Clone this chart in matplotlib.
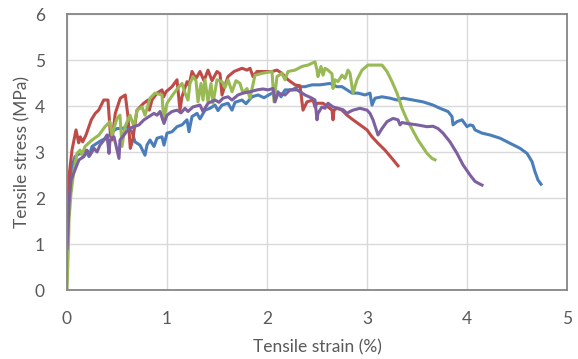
import matplotlib.pyplot as plt
import numpy as np

# (strain %, stress MPa)
blue_pts = [
    (0.0, 1.6), (0.01, 1.74), (0.02, 2.25), (0.05, 2.68), (0.08, 2.90), (0.13, 2.97),
    (0.18, 3.04), (0.22, 2.90), (0.25, 3.12), (0.30, 3.19), (0.35, 3.26), (0.40, 3.30),
    (0.45, 3.44), (0.50, 3.51), (0.55, 3.51), (0.60, 3.55), (0.65, 3.44), (0.68, 3.22),
    (0.73, 3.15), (0.78, 2.93), (0.80, 3.15), (0.83, 3.26), (0.87, 3.12), (0.90, 3.30),
    (0.95, 3.33), (0.97, 3.15), (1.00, 3.41), (1.05, 3.44), (1.10, 3.55), (1.15, 3.59),
    (1.20, 3.70), (1.22, 3.44), (1.25, 3.77), (1.30, 3.84), (1.33, 3.72), (1.38, 3.91),
    (1.43, 3.95), (1.48, 4.02), (1.51, 3.90), (1.55, 4.02), (1.61, 4.06), (1.65, 3.91),
    (1.68, 4.08), (1.75, 4.13), (1.79, 4.05), (1.85, 4.20), (1.91, 4.24), (1.97, 4.18),
    (2.05, 4.28), (2.11, 4.31), (2.14, 4.20), (2.18, 4.35), (2.25, 4.35), (2.31, 4.42),
    (2.38, 4.42), (2.45, 4.46), (2.53, 4.46), (2.63, 4.49), (2.70, 4.42), (2.75, 4.42),
    (2.80, 4.35), (2.85, 4.28), (2.91, 4.28), (2.98, 4.24), (3.03, 4.28), (3.05, 4.02),
    (3.08, 4.17), (3.15, 4.20), (3.23, 4.17), (3.30, 4.13), (3.36, 4.17), (3.46, 4.13),
    (3.56, 4.09), (3.66, 4.02), (3.73, 3.95), (3.81, 3.88), (3.85, 3.77), (3.86, 3.59),
    (3.90, 3.66), (3.95, 3.70), (4.00, 3.55), (4.03, 3.59), (4.06, 3.57), (4.08, 3.48),
    (4.15, 3.41), (4.23, 3.37), (4.33, 3.30), (4.43, 3.19), (4.53, 3.08), (4.60, 2.97),
    (4.65, 2.79), (4.68, 2.57), (4.71, 2.39), (4.74, 2.30),
]

red_pts = [
    (0.0, 1.8), (0.01, 1.96), (0.02, 2.46), (0.05, 3.04), (0.09, 3.48), (0.117, 3.20),
    (0.133, 3.33), (0.157, 3.22), (0.19, 3.37), (0.243, 3.70), (0.283, 3.84), (0.317, 3.91),
    (0.367, 4.13), (0.41, 4.13), (0.433, 3.41), (0.45, 3.26), (0.483, 3.84), (0.533, 4.17),
    (0.583, 4.24), (0.61, 3.77), (0.633, 3.08), (0.657, 3.26), (0.70, 3.91), (0.767, 4.06),
    (0.81, 4.13), (0.823, 3.91), (0.85, 4.13), (0.90, 4.28), (0.95, 4.35), (0.967, 4.20),
    (0.99, 4.31), (1.05, 4.42), (1.10, 4.57), (1.13, 3.91), (1.15, 4.20), (1.20, 4.53),
    (1.22, 4.45), (1.25, 4.75), (1.29, 4.60), (1.33, 4.75), (1.37, 4.55), (1.41, 4.78),
    (1.45, 4.55), (1.50, 4.75), (1.53, 4.70), (1.55, 4.24), (1.58, 4.45), (1.61, 4.64),
    (1.67, 4.75), (1.75, 4.82), (1.80, 4.78), (1.83, 4.82), (1.86, 4.64), (1.90, 4.75),
    (1.98, 4.75), (2.05, 4.75), (2.10, 4.78), (2.15, 4.71), (2.21, 4.57), (2.28, 4.46),
    (2.33, 4.44), (2.36, 3.91), (2.40, 4.09), (2.46, 4.13), (2.48, 3.98), (2.50, 4.06),
    (2.56, 4.06), (2.61, 3.98), (2.65, 3.91), (2.66, 3.70), (2.67, 3.91), (2.70, 3.95),
    (2.75, 3.91), (2.80, 3.80), (2.86, 3.70), (2.93, 3.59), (3.00, 3.48), (3.05, 3.33),
    (3.11, 3.19), (3.18, 3.04), (3.25, 2.86), (3.31, 2.70),
]

green_pts = [
    (0.0, 0.0), (0.017, 1.16), (0.02, 1.52), (0.04, 2.10), (0.07, 2.61), (0.10, 2.97),
    (0.13, 3.04), (0.15, 2.93), (0.18, 3.12), (0.25, 3.26), (0.32, 3.37), (0.38, 3.55),
    (0.43, 3.66), (0.45, 3.37), (0.50, 3.73), (0.53, 3.80), (0.55, 3.12), (0.58, 3.55),
    (0.63, 3.80), (0.67, 3.55), (0.70, 3.91), (0.75, 3.98), (0.78, 3.80), (0.83, 4.17),
    (0.88, 4.28), (0.95, 4.24), (0.967, 3.70), (1.00, 4.06), (1.07, 4.28), (1.12, 4.42),
    (1.15, 4.49), (1.18, 4.28), (1.21, 4.13), (1.23, 4.49), (1.26, 4.64), (1.29, 4.55),
    (1.31, 4.09), (1.34, 4.49), (1.36, 4.13), (1.38, 4.57), (1.41, 4.09), (1.44, 4.49),
    (1.46, 4.06), (1.50, 4.57), (1.55, 4.53), (1.58, 4.40), (1.61, 4.57), (1.65, 4.31),
    (1.69, 4.55), (1.73, 4.49), (1.76, 4.28), (1.80, 4.38), (1.83, 4.17), (1.88, 4.67),
    (1.95, 4.71), (2.05, 4.75), (2.07, 4.09), (2.10, 4.64), (2.15, 4.71), (2.18, 4.57),
    (2.21, 4.75), (2.28, 4.78), (2.35, 4.86), (2.41, 4.89), (2.48, 4.96), (2.50, 4.78),
    (2.51, 4.64), (2.54, 4.86), (2.56, 4.67), (2.58, 4.82), (2.61, 4.78), (2.65, 4.70),
    (2.66, 4.38), (2.68, 4.57), (2.71, 4.53), (2.75, 4.67), (2.78, 4.60), (2.81, 4.78),
    (2.83, 4.71), (2.86, 4.28), (2.90, 4.57), (2.95, 4.78), (3.01, 4.89), (3.08, 4.89),
    (3.15, 4.89), (3.20, 4.75), (3.25, 4.53), (3.30, 4.28), (3.35, 3.95), (3.40, 3.70),
    (3.45, 3.50), (3.51, 3.26), (3.60, 2.97), (3.65, 2.86), (3.68, 2.83),
]

purple_pts = [
    (0.0, 0.9), (0.01, 1.30), (0.02, 1.88), (0.04, 2.39), (0.08, 2.61), (0.12, 2.83),
    (0.17, 2.90), (0.20, 3.04), (0.23, 2.93), (0.27, 3.08), (0.30, 3.00), (0.33, 3.15),
    (0.37, 3.26), (0.40, 3.37), (0.42, 2.97), (0.43, 3.26), (0.47, 3.33), (0.52, 2.86),
    (0.53, 3.26), (0.57, 3.37), (0.62, 3.51), (0.67, 3.55), (0.72, 3.59), (0.77, 3.70),
    (0.82, 3.77), (0.87, 3.84), (0.90, 3.80), (0.93, 3.88), (0.97, 3.62), (1.00, 3.80),
    (1.05, 3.88), (1.10, 3.91), (1.14, 3.85), (1.18, 3.95), (1.21, 3.88), (1.26, 3.98),
    (1.33, 4.02), (1.36, 3.88), (1.41, 4.06), (1.48, 4.13), (1.52, 4.08), (1.56, 4.17),
    (1.61, 4.20), (1.65, 4.13), (1.71, 4.24), (1.76, 4.28), (1.83, 4.31), (1.90, 4.35),
    (1.96, 4.37), (2.01, 4.35), (2.06, 4.38), (2.08, 4.09), (2.11, 4.28), (2.18, 4.24),
    (2.23, 4.35), (2.30, 4.35), (2.33, 4.31), (2.38, 4.24), (2.45, 4.17), (2.48, 4.13),
    (2.50, 3.70), (2.51, 3.84), (2.55, 3.98), (2.58, 3.95), (2.61, 4.06), (2.66, 3.98),
    (2.71, 3.95), (2.76, 3.92), (2.80, 3.84), (2.83, 3.88), (2.86, 3.91), (2.93, 3.95),
    (3.00, 3.91), (3.03, 3.84), (3.06, 3.70), (3.11, 3.37), (3.15, 3.51), (3.20, 3.66),
    (3.26, 3.73), (3.31, 3.70), (3.33, 3.59), (3.35, 3.64), (3.40, 3.62), (3.50, 3.59),
    (3.60, 3.55), (3.66, 3.56), (3.71, 3.51), (3.76, 3.41), (3.83, 3.22), (3.90, 2.97),
    (3.96, 2.72), (4.03, 2.50), (4.08, 2.36), (4.15, 2.28),
]

series = [
    (blue_pts, "#4A7EBB"),
    (red_pts, "#BE4B48"),
    (green_pts, "#98B954"),
    (purple_pts, "#7D60A0"),
]

plt.rcParams["font.family"] = ["Lato", "DejaVu Sans"]
text_color = "#595959"

fig = plt.figure(figsize=(5.78, 3.59), dpi=100)
ax = fig.add_axes([0.1159, 0.1922, 0.8651, 0.7688])

for pts, color in series:
    arr = np.array(pts)
    ax.plot(arr[:, 0], arr[:, 1], color=color, linewidth=2.2, solid_joinstyle="round")

ax.set_xlim(0, 5)
ax.set_ylim(0, 6)
ax.set_xticks(range(0, 6))
ax.set_yticks(range(0, 7))
ax.grid(True, color="#D9D9D9", linewidth=1.0)
ax.set_axisbelow(True)
ax.tick_params(length=0, labelsize=12.5, colors=text_color)
ax.tick_params(axis="x", pad=15)
ax.tick_params(axis="y", pad=16)

for side in ["top", "right", "left", "bottom"]:
    ax.spines[side].set_color("#868686")
    ax.spines[side].set_linewidth(1.3)

ax.set_xlabel("Tensile strain (%)", fontsize=12.5, color=text_color, labelpad=9)
ax.set_ylabel("Tensile stress (MPa)", fontsize=12.5, color=text_color, labelpad=3)

fig.savefig("out.png", dpi=100)
